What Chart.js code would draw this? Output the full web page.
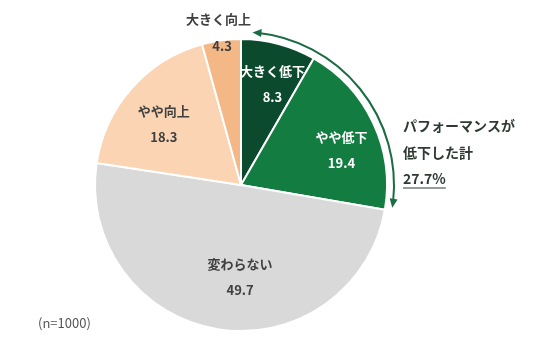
<!DOCTYPE html>
<html>
<head>
<meta charset="utf-8">
<script src="https://cdn.jsdelivr.net/npm/chart.js@4"></script>
<style>
  html, body { margin: 0; padding: 0; background: #fff; }
  #wrap { position: relative; width: 534px; height: 347px; }
</style>
</head>
<body>
<div id="wrap"><canvas id="myChart" width="534" height="347"></canvas></div>
<script>
// data
const categories = ['大きく低下', 'やや低下', '変わらない', 'やや向上', '大きく向上'];
const shares = [8.3, 19.4, 49.7, 18.3, 4.3];
const sliceColors = ['#0b4a2c', '#137d41', '#d9d9d9', '#fbd5b3', '#f4b887'];
const textColors = ['#ffffff', '#ffffff', '#404040', '#404040', '#404040'];
const declineNote = ['パフォーマンスが', '低下した計', '27.7%'];
const sampleNote = '(n=1000)';

// label placement (fraction of radius, pixel nudges)
const labelRadius = [0.73, 0.73, 0.64, 0.67, 0.96];
const labelNudge = [[4, 2], [4, 10], [14, 0], [-4, 4], [0, 0]];
const FONT = '"Noto Sans CJK JP", "Noto Sans", sans-serif';

const sliceLabels = {
  id: 'sliceLabels',
  afterDatasetsDraw(chart) {
    const { ctx } = chart;
    const arcs = chart.getDatasetMeta(0).data;
    ctx.save();
    ctx.textAlign = 'center';
    ctx.textBaseline = 'middle';
    ctx.font = 'bold 13px ' + FONT;
    arcs.forEach((arc, i) => {
      const mid = (arc.startAngle + arc.endAngle) / 2;
      const r = arc.outerRadius * labelRadius[i];
      const x = arc.x + Math.cos(mid) * r + labelNudge[i][0];
      const y = arc.y + Math.sin(mid) * r + labelNudge[i][1];
      ctx.fillStyle = textColors[i];
      if (i === 4) {
        // small slice: name sits outside
        ctx.fillText(shares[i].toFixed(1), x, y);
        const ro = arc.outerRadius * 1.15;
        ctx.fillText(categories[i], arc.x + Math.cos(mid) * ro, arc.y + Math.sin(mid) * ro);
      } else {
        ctx.fillText(categories[i], x, y - 13);
        ctx.fillText(shares[i].toFixed(1), x, y + 13);
      }
    });
    ctx.restore();
  }
};

const declineArrow = {
  id: 'declineArrow',
  afterDraw(chart) {
    const { ctx } = chart;
    const arcs = chart.getDatasetMeta(0).data;
    const cx = arcs[0].x, cy = arcs[0].y;
    const R = arcs[0].outerRadius + 7;
    const a0 = arcs[0].startAngle + 0.075;
    const a1 = arcs[1].endAngle - 0.02;
    const col = '#1b6b43';
    ctx.save();
    ctx.strokeStyle = col;
    ctx.fillStyle = col;
    ctx.lineWidth = 2;
    ctx.beginPath();
    ctx.arc(cx, cy, R, a0 + 0.03, a1 - 0.03);
    ctx.stroke();
    const head = (ang, dir) => {
      const px = cx + Math.cos(ang) * R, py = cy + Math.sin(ang) * R;
      // tangent: dir = 1 clockwise, -1 counter-clockwise
      const tx = -Math.sin(ang) * dir, ty = Math.cos(ang) * dir;
      const nx = -ty, ny = tx;
      const L = 9, W = 4;
      ctx.beginPath();
      ctx.moveTo(px, py);
      ctx.lineTo(px - tx * L + nx * W, py - ty * L + ny * W);
      ctx.lineTo(px - tx * L - nx * W, py - ty * L - ny * W);
      ctx.closePath();
      ctx.fill();
    };
    head(a0, -1);
    head(a1, 1);

    // note text
    ctx.textAlign = 'left';
    ctx.textBaseline = 'middle';
    ctx.font = 'bold 14px ' + FONT;
    ctx.fillStyle = '#2f3a33';
    const tx0 = 403;
    ctx.fillText(declineNote[0], tx0, 126);
    ctx.fillText(declineNote[1], tx0, 153);
    ctx.fillText(declineNote[2], tx0, 179);
    const w = ctx.measureText(declineNote[2]).width;
    ctx.lineWidth = 1.2;
    ctx.strokeStyle = '#2f3a33';
    ctx.beginPath();
    ctx.moveTo(tx0, 188);
    ctx.lineTo(tx0 + w, 188);
    ctx.stroke();

    ctx.font = '13px ' + FONT;
    ctx.fillStyle = '#555555';
    ctx.fillText(sampleNote, 38, 323);
    ctx.restore();
  }
};

const config = {
  type: 'pie',
  data: {
    labels: categories,
    datasets: [{
      data: shares,
      backgroundColor: sliceColors,
      borderColor: '#ffffff',
      borderWidth: 2
    }]
  },
  options: {
    responsive: false,
    animation: false,
    layout: { padding: { left: 94, right: 146, top: 38, bottom: 15 } },
    plugins: {
      legend: { display: false },
      tooltip: { enabled: false }
    }
  },
  plugins: [sliceLabels, declineArrow]
};

const myChart = new Chart(document.getElementById('myChart'), config);
</script>
</body>
</html>
